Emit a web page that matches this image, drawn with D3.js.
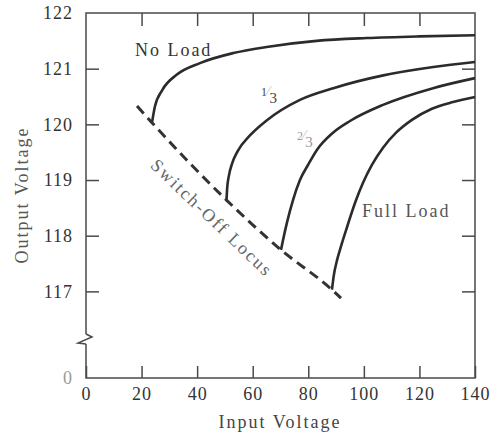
<!DOCTYPE html>
<html>
<head>
<meta charset="utf-8">
<script src="https://cdn.jsdelivr.net/npm/d3@7"></script>
<style>
  body { margin: 0; background: #fff; }
  svg text { font-family: "Liberation Serif", "Times New Roman", serif; }
</style>
</head>
<body>
<div id="chart"></div>
<script>
// curves: [input voltage, output voltage]
const noLoad = [[23.75, 120.03], [24.8, 120.32], [27.5, 120.62], [32.6, 120.89], [41, 121.10],
  [53, 121.28], [65, 121.39], [83, 121.50], [101, 121.55], [120, 121.58], [140, 121.6]]
const oneThird = [[50.56, 118.64], [50.8, 118.85], [51.4, 119.07], [52.6, 119.3], [54.6, 119.52],
  [59, 119.8], [65, 120.07], [77, 120.44], [89, 120.65], [107, 120.88], [125, 121.03], [140, 121.12]]
const twoThirds = [[70.18, 117.745], [70.9, 117.92], [72.3, 118.23], [74.5, 118.64], [77, 119.0],
  [79.9, 119.27], [83.1, 119.54], [88.9, 119.85], [95, 120.06], [106.9, 120.35], [124.9, 120.65], [140, 120.83]]
const fullLoad = [[88.53, 117.03], [89.1, 117.26], [90.4, 117.57], [91.4, 117.745], [93.6, 118.10],
  [97.2, 118.64], [99.7, 118.95], [102.9, 119.27], [106.9, 119.58], [111.6, 119.85], [117.3, 120.08],
  [124.5, 120.28], [132.1, 120.40], [140, 120.49]]
const switchOff = [[18.35, 120.33], [23.75, 120.03], [50.56, 118.64], [70.18, 117.745], [88.53, 117.03], [91.77, 116.88]]

const xTicks = [0, 20, 40, 60, 80, 100, 120, 140]
const yTicks = [0, 117, 118, 119, 120, 121, 122]

const width = 491
const height = 435
const margin = {top: 13, right: 16, bottom: 57, left: 86}

const svg = d3.select('#chart').append('svg')
  .attr('width', width)
  .attr('height', height)

const xs = d3.scaleLinear().domain([0, 140]).range([margin.left, width - margin.right])
// broken axis: 0 at the bottom, then a jump to 116.15
const ys = d3.scaleLinear().domain([0, 116.15, 122]).range([height - margin.bottom, 338.7, margin.top])

const frameColor = '#4a4a4a'
const inkColor = '#2b2b2b'

// ticks
const tickStyle = g => {
  g.selectAll('.domain').remove()
  g.selectAll('.tick line').attr('stroke', frameColor).attr('stroke-width', 1.5)
  g.selectAll('.tick text')
    .attr('fill', '#333')
    .style('font-size', '18px')
    .style('letter-spacing', '1px')
}

svg.append('g')
  .attr('transform', `translate(0,${ys(0)})`)
  .call(d3.axisBottom(xs).tickValues(xTicks).tickSize(-12).tickPadding(9))
  .call(tickStyle)

svg.append('g')
  .attr('transform', `translate(0,${ys(122)})`)
  .call(d3.axisTop(xs).tickValues(xTicks.slice(1, -1)).tickSize(-13).tickFormat(''))
  .call(tickStyle)

svg.append('g')
  .attr('transform', `translate(${xs(0)},0)`)
  .call(d3.axisLeft(ys).tickValues(yTicks).tickSize(-13).tickPadding(13))
  .call(tickStyle)
  .call(g => g.selectAll('.tick').filter(d => d === 0 || d === 122).select('line').remove())
  .call(g => g.selectAll('.tick').filter(d => d === 0).select('text').attr('fill', '#999'))

svg.append('g')
  .attr('transform', `translate(${xs(140)},0)`)
  .call(d3.axisRight(ys).tickValues(yTicks.slice(1, -1)).tickSize(-13).tickFormat(''))
  .call(tickStyle)

// frame with the break on the left side
const x0 = xs(0)
const yb = 338
const frame = svg.append('g')
  .attr('fill', 'none')
  .attr('stroke', frameColor)
  .attr('stroke-width', 1.5)
frame.append('path')
  .attr('d', `M${x0},${yb - 4}V${ys(122)}H${xs(140)}V${ys(0)}H${x0}V${yb + 6}`)
frame.append('path')
  .attr('d', `M${x0},${yb - 4}L${x0 + 6},${yb - 1}L${x0 - 8},${yb + 5}L${x0},${yb + 6}`)

// curves
const line = d3.line()
  .x(d => xs(d[0]))
  .y(d => ys(d[1]))
  .curve(d3.curveMonotoneX)

const plot = svg.append('g').attr('fill', 'none')
plot.selectAll('.load-curve')
  .data([noLoad, oneThird, twoThirds, fullLoad])
  .enter()
  .append('path')
  .classed('load-curve', true)
  .attr('d', line)
  .attr('stroke', inkColor)
  .attr('stroke-width', 2.6)
  .attr('stroke-linecap', 'butt')

plot.append('path')
  .attr('d', line(switchOff))
  .attr('stroke', '#333')
  .attr('stroke-width', 3)
  .attr('stroke-dasharray', '10, 6')

// labels
const label = (txt, vx, vy, color) => svg.append('text')
  .attr('x', xs(vx))
  .attr('y', ys(vy))
  .attr('fill', color)
  .style('font-size', '18px')
  .style('letter-spacing', '2px')
  .text(txt)

label('No Load', 17.6, 121.23, '#333')
label('Full Load', 99.3, 118.34, '#555')

const fraction = (num, vx, vy, color) => {
  const t = svg.append('text')
    .attr('x', xs(vx))
    .attr('y', ys(vy))
    .attr('fill', color)
  t.append('tspan').attr('dy', -7).style('font-size', '12px').text(num)
  t.append('tspan').attr('dy', 0).attr('fill', '#bbb').style('font-size', '14px').text('\u2044')
  t.append('tspan').attr('dy', 7).style('font-size', '15px').text('3')
}
fraction('1', 63.0, 120.38, '#444')
fraction('2', 75.9, 119.59, '#999')

svg.append('text')
  .attr('transform', `translate(${xs(45.3)},${ys(118.32)}) rotate(43.7)`)
  .attr('text-anchor', 'middle')
  .attr('dominant-baseline', 'central')
  .attr('fill', '#666')
  .style('font-size', '18px')
  .style('letter-spacing', '2px')
  .text('Switch-Off Locus')

// axis titles
svg.append('text')
  .attr('transform', `translate(28,195) rotate(-90)`)
  .attr('text-anchor', 'middle')
  .attr('fill', '#555')
  .style('font-size', '18px')
  .style('letter-spacing', '2px')
  .text('Output Voltage')

svg.append('text')
  .attr('x', 280)
  .attr('y', 428)
  .attr('text-anchor', 'middle')
  .attr('fill', '#444')
  .style('font-size', '18px')
  .style('letter-spacing', '2px')
  .text('Input Voltage')
</script>
</body>
</html>
